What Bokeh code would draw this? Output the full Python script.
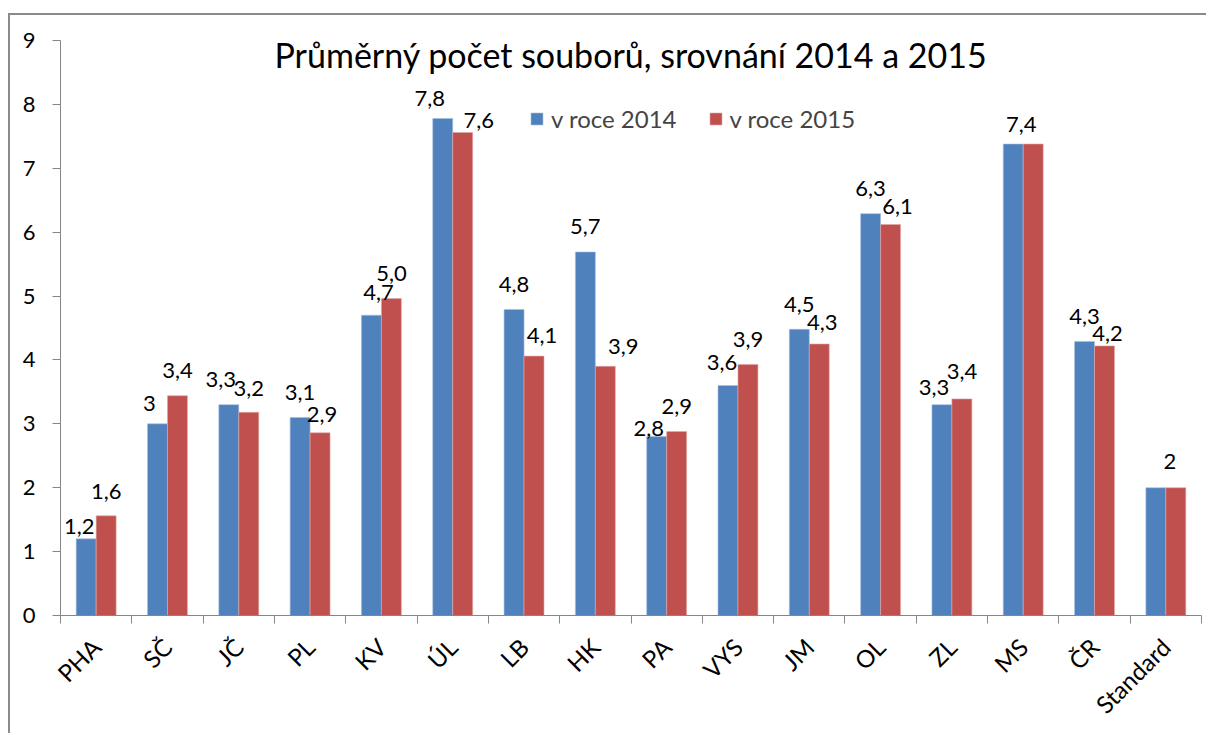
from bokeh.plotting import figure
from bokeh.models import (ColumnDataSource, Range1d, FixedTicker, Legend, LegendItem, Label)
from bokeh.core.properties import value
from bokeh.embed import file_html
from bokeh.resources import INLINE

# ---- data ----
categories = ["PHA", "SČ", "JČ", "PL", "KV", "ÚL", "LB", "HK", "PA", "VYS",
              "JM", "OL", "ZL", "MS", "ČR", "Standard"]
v2014 = [1.2, 3.0, 3.3, 3.1, 4.7, 7.78, 4.79, 5.69, 2.8, 3.6, 4.48, 6.29, 3.3, 7.38, 4.29, 2.0]
v2015 = [1.56, 3.44, 3.18, 2.86, 4.96, 7.56, 4.06, 3.9, 2.88, 3.93, 4.25, 6.12, 3.39, 7.38, 4.22, 2.0]
labels2014 = ["1,2", "3", "3,3", "3,1", "4,7", "7,8", "4,8", "5,7", "2,8", "3,6",
              "4,5", "6,3", "3,3", "7,4", "4,3", ""]
labels2015 = ["1,6", "3,4", "3,2", "2,9", "5,0", "7,6", "4,1", "3,9", "2,9", "3,9",
              "4,3", "6,1", "3,4", "", "4,2", "2"]
series_names = ["v roce 2014", "v roce 2015"]
y_ticks = list(range(0, 10))
title_text = "Průměrný počet souborů, srovnání 2014 a 2015"

# ---- presentation ----
FONT = "Lato"
BLUE = "#4F81BD"
RED = "#C0504D"
AXIS = "#868686"
BAR_W = 0.28
GAP = 25  # px between bar top and label anchor
# manual label nudges (px) as placed in the original
nudge14 = [(-7, 13), (-8, 5), (-8, 0), (0, 0), (7, 2), (-13, 5), (0, 0), (0, 0),
           (-8, 17), (-6, 2), (0, 0), (0, 0), (-8, 8), (8, 5), (0, 0), (0, 0)]
nudge15 = [(0, 1), (0, 0), (0, 1), (2, 7), (0, 0), (16, 13), (8, 4), (18, 5),
           (0, 0), (0, 0), (3, 4), (7, 7), (0, -2), (0, 0), (3, 13), (-6, -1)]

n = len(categories)
idx = list(range(n))

src14 = ColumnDataSource(dict(
    x=[i - BAR_W / 2 for i in idx], top=v2014, text=labels2014,
    dx=[d[0] for d in nudge14], dy=[-GAP + d[1] for d in nudge14]))
src15 = ColumnDataSource(dict(
    x=[i + BAR_W / 2 for i in idx], top=v2015, text=labels2015,
    dx=[d[0] for d in nudge15], dy=[-GAP + d[1] for d in nudge15]))

p = figure(width=1198, height=720, output_backend="svg", toolbar_location=None,
           x_range=Range1d(-0.5, n - 0.5), y_range=Range1d(0, 9),
           min_border_left=50, min_border_right=7, min_border_top=25, min_border_bottom=120)
p.styles = {"margin-top": "13px", "margin-left": "8px",
            "border-top": "2px solid #8a8a8a", "border-left": "2px solid #8a8a8a"}
p.outline_line_color = None
p.grid.visible = False
p.background_fill_color = "white"

r14 = p.vbar(x="x", top="top", width=BAR_W, source=src14, fill_color=BLUE,
             line_color="#a8c0e0", line_width=0.6)
r15 = p.vbar(x="x", top="top", width=BAR_W, source=src15, fill_color=RED,
             line_color="#e0a8a8", line_width=0.6)

for src in (src14, src15):
    p.text(x="x", y="top", text="text", source=src, x_offset="dx", y_offset="dy",
           text_align="center", text_baseline="alphabetic",
           text_font=value(FONT), text_font_size="22px", text_color="black")

# axes
yax = p.yaxis[0]
yax.ticker = FixedTicker(ticks=y_ticks)
yax.axis_line_color = AXIS
yax.major_tick_line_color = AXIS
yax.major_tick_out = 8
yax.major_tick_in = 0
yax.minor_tick_line_color = None
yax.major_label_standoff = 17
yax.major_label_text_font = FONT
yax.major_label_text_font_size = "22px"
yax.major_label_text_color = "black"

xax = p.xaxis[0]
xax.ticker = FixedTicker(ticks=idx, minor_ticks=[i - 0.5 for i in range(n + 1)])
xax.major_label_overrides = {i: c for i, c in enumerate(categories)}
xax.axis_line_color = AXIS
xax.major_tick_line_color = None
xax.major_tick_out = 0
xax.major_tick_in = 0
xax.minor_tick_line_color = AXIS
xax.minor_tick_out = 8
xax.minor_tick_in = 0
xax.major_label_orientation = 0.7854
xax.major_label_standoff = 19
xax.major_label_text_font = FONT
xax.major_label_text_font_size = "24px"
xax.major_label_text_color = "black"

# title inside the frame
p.add_layout(Label(x=(n - 1) / 2, y=8.78, text=title_text, text_align="center",
                   text_baseline="alphabetic", text_font=FONT, text_font_size="34px",
                   text_color="black"))

legend = Legend(items=[LegendItem(label=series_names[0], renderers=[r14]),
                       LegendItem(label=series_names[1], renderers=[r15])],
                orientation="horizontal", location=(469, 482),
                glyph_width=15, glyph_height=15, label_standoff=7, spacing=31,
                padding=0, margin=0, border_line_alpha=0, background_fill_alpha=0,
                label_text_font=FONT, label_text_font_size="24px")
p.add_layout(legend)

open("out.html", "w").write(file_html(p, INLINE))
